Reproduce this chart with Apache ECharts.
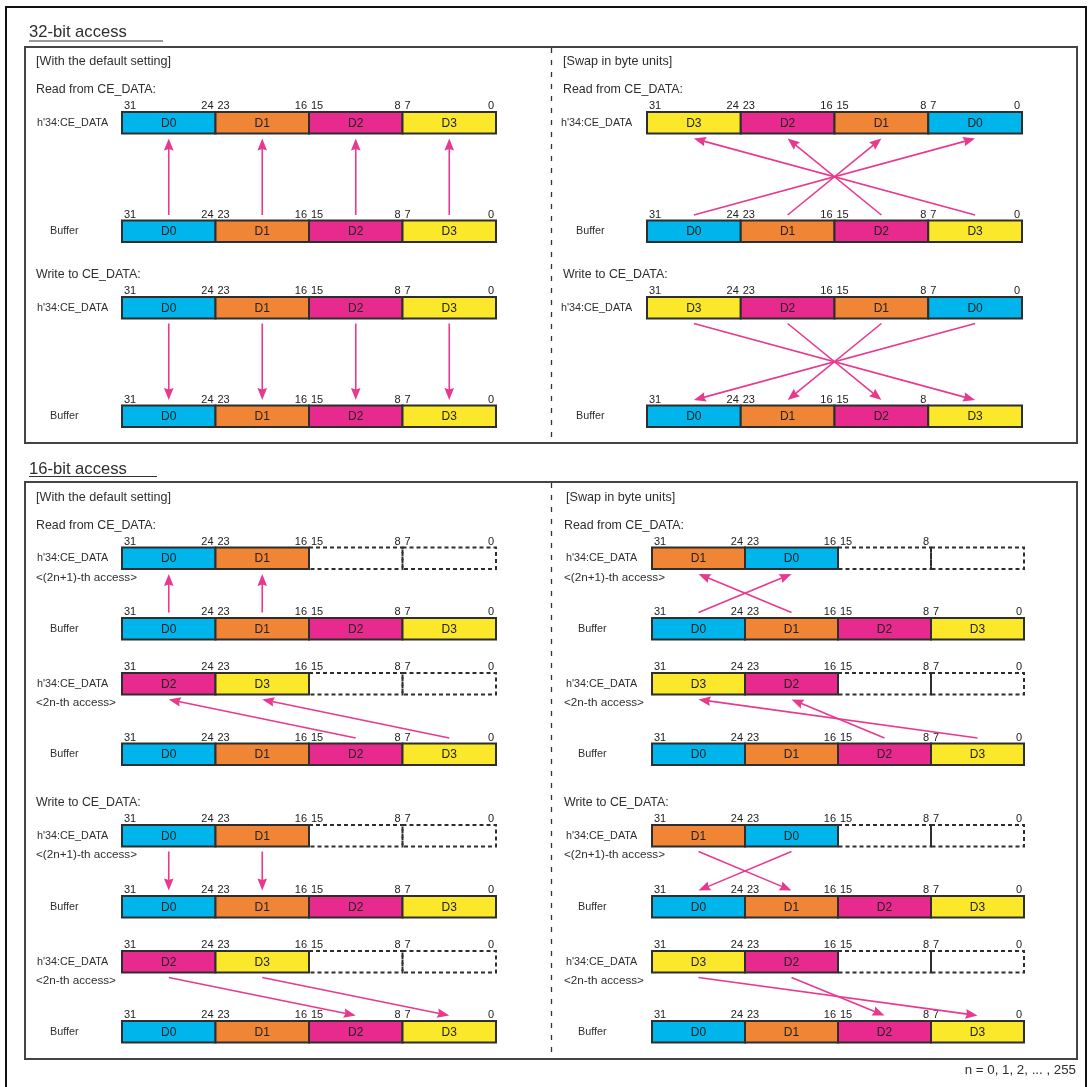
<!DOCTYPE html>
<html>
<head>
<meta charset="utf-8">
<script src="https://cdn.jsdelivr.net/npm/echarts@6/dist/echarts.min.js"></script>
<style>
  html, body { margin: 0; padding: 0; background: #fff; }
  #chart { width: 1092px; height: 1087px; }
</style>
</head>
<body>
<div id="chart"></div>
<script>
// Bit numbers over each byte lane (left, right)
const bitTicks = [['31', '24'], ['23', '16'], ['15', '8'], ['7', '0']];
const bitTicksNo70 = [['31', '24'], ['23', '16'], ['15', '8'], ['', '']];

// Byte contents of each row
const bufferBytes = ['D0', 'D1', 'D2', 'D3'];
const regDefault32 = ['D0', 'D1', 'D2', 'D3'];
const regSwap32 = ['D3', 'D2', 'D1', 'D0'];
const regOddDefault = ['D0', 'D1', '', ''];
const regEvenDefault = ['D2', 'D3', '', ''];
const regOddSwap = ['D1', 'D0', '', ''];
const regEvenSwap = ['D3', 'D2', '', ''];

// Arrows: [buffer lane, register lane]
const mapStraight = [[0, 0], [1, 1], [2, 2], [3, 3]];
const mapSwap32 = [[0, 3], [1, 2], [2, 1], [3, 0]];
const mapOddDefault = [[0, 0], [1, 1]];
const mapEvenDefault = [[2, 0], [3, 1]];
const mapOddSwap = [[0, 1], [1, 0]];
const mapEvenSwap = [[2, 1], [3, 0]];

const oddNote = '<(2n+1)-th access>';
const evenNote = '<2n-th access>';

// Styling
const laneColor = { D0: '#00b5ec', D1: '#ef8535', D2: '#e8298d', D3: '#fce82a' };
const arrowColor = '#e8398f';
const ink = '#2e2e2e';
const FONT = "'Liberation Sans', Arial, Helvetica, sans-serif";
const CELL_H = 21.5;

// Layout of every register/buffer pair
const L = { x0: 122, w: 93.5, regX: 37, bufX: 50, noteX: 36 };
const R32 = { x0: 647, w: 93.75, regX: 561, bufX: 576, noteX: 563 };
const R16 = { x0: 652, w: 93, regX: 566, bufX: 578, noteX: 564 };

const blocks = [
    { lay: L, regTop: 112, bufTop: 220.5, reg: regDefault32, map: mapStraight, dir: 'up' },
    { lay: L, regTop: 297, bufTop: 405.5, reg: regDefault32, map: mapStraight, dir: 'down' },
    { lay: R32, regTop: 112, bufTop: 220.5, reg: regSwap32, map: mapSwap32, dir: 'up' },
    { lay: R32, regTop: 297, bufTop: 405.5, reg: regSwap32, map: mapSwap32, dir: 'down', bufTicks: bitTicksNo70 },

    { lay: L, regTop: 547.5, bufTop: 618, reg: regOddDefault, map: mapOddDefault, dir: 'up', note: oddNote },
    { lay: L, regTop: 673, bufTop: 743.5, reg: regEvenDefault, map: mapEvenDefault, dir: 'up', note: evenNote },
    { lay: L, regTop: 825, bufTop: 896, reg: regOddDefault, map: mapOddDefault, dir: 'down', note: oddNote },
    { lay: L, regTop: 951, bufTop: 1021, reg: regEvenDefault, map: mapEvenDefault, dir: 'down', note: evenNote },

    { lay: R16, regTop: 547.5, bufTop: 618, reg: regOddSwap, map: mapOddSwap, dir: 'up', note: oddNote, regTicks: bitTicksNo70 },
    { lay: R16, regTop: 673, bufTop: 743.5, reg: regEvenSwap, map: mapEvenSwap, dir: 'up', note: evenNote },
    { lay: R16, regTop: 825, bufTop: 896, reg: regOddSwap, map: mapOddSwap, dir: 'down', note: oddNote },
    { lay: R16, regTop: 951, bufTop: 1021, reg: regEvenSwap, map: mapEvenSwap, dir: 'down', note: evenNote }
];

// Build cells and arrows from the blocks
const cellList = [];
const arrowData = [];
const rowTexts = [];

blocks.forEach(b => {
    const lay = b.lay;
    const addRow = (bytes, top, ticks) => {
        bytes.forEach((name, i) => {
            cellList.push({
                x0: lay.x0 + i * lay.w, x1: lay.x0 + (i + 1) * lay.w,
                y0: top, y1: top + CELL_H,
                name: name, ticks: ticks[i]
            });
        });
    };
    addRow(b.reg, b.regTop, b.regTicks || bitTicks);
    addRow(bufferBytes, b.bufTop, b.bufTicks || bitTicks);

    const regBot = b.regTop + CELL_H;
    b.map.forEach(([bi, ri]) => {
        const bx = lay.x0 + (bi + 0.5) * lay.w;
        const rx = lay.x0 + (ri + 0.5) * lay.w;
        if (b.dir === 'up') {
            arrowData.push([bx, b.bufTop - 5.5, rx, regBot + 5]);
        } else {
            arrowData.push([rx, regBot + 5, bx, b.bufTop - 5.5]);
        }
    });

    rowTexts.push(txt("h'34:CE_DATA", lay.regX, b.regTop + CELL_H / 2, 10.8));
    rowTexts.push(txt('Buffer', lay.bufX, b.bufTop + CELL_H / 2, 10.8));
    if (b.note) rowTexts.push(txt(b.note, lay.noteX, regBot + 8.5, 11.7));
});

// empty (dashed) lanes first so solid borders sit on top
cellList.sort((a, b) => (a.name ? 1 : 0) - (b.name ? 1 : 0));

function txt(text, x, y, size, align) {
    return {
        type: 'text', silent: true,
        style: {
            text: text, x: x, y: y, fill: ink,
            font: size + 'px ' + FONT,
            textAlign: align || 'left', align: align || 'left',
            textVerticalAlign: 'middle', verticalAlign: 'middle'
        }
    };
}

function renderCell(params, api) {
    const c = cellList[params.dataIndex];
    const p0 = api.coord([api.value(0), api.value(1)]);
    const p1 = api.coord([api.value(2), api.value(3)]);
    const children = [];
    const rectStyle = { fill: c.name ? laneColor[c.name] : 'none', stroke: ink, lineWidth: 2 };
    if (!c.name) rectStyle.lineDash = [4, 3];
    children.push({
        type: 'rect',
        shape: { x: p0[0], y: p0[1], width: p1[0] - p0[0], height: p1[1] - p0[1] },
        style: rectStyle
    });
    if (c.name) {
        children.push({
            type: 'text',
            style: {
                text: c.name, x: (p0[0] + p1[0]) / 2, y: (p0[1] + p1[1]) / 2 + 0.5,
                fill: '#222', font: '12px ' + FONT,
                textAlign: 'center', align: 'center', textVerticalAlign: 'middle', verticalAlign: 'middle'
            }
        });
    }
    const ty = p0[1] - 5.8;
    if (c.ticks[0]) {
        children.push({
            type: 'text',
            style: { text: c.ticks[0], x: p0[0] + 2, y: ty, fill: '#222', font: '11px ' + FONT,
                textAlign: 'left', align: 'left', textVerticalAlign: 'middle', verticalAlign: 'middle' }
        });
    }
    if (c.ticks[1]) {
        children.push({
            type: 'text',
            style: { text: c.ticks[1], x: p1[0] - 2, y: ty, fill: '#222', font: '11px ' + FONT,
                textAlign: 'right', align: 'right', textVerticalAlign: 'middle', verticalAlign: 'middle' }
        });
    }
    return { type: 'group', children: children };
}

function renderArrow(params, api) {
    const s = api.coord([api.value(0), api.value(1)]);
    const t = api.coord([api.value(2), api.value(3)]);
    const dx = t[0] - s[0], dy = t[1] - s[1];
    const len = Math.hypot(dx, dy);
    const ux = dx / len, uy = dy / len;
    const hl = 12, hw = 4.8;
    const bx = t[0] - ux * hl, by = t[1] - uy * hl;
    return {
        type: 'group',
        children: [
            { type: 'line', shape: { x1: s[0], y1: s[1], x2: bx + ux * 2, y2: by + uy * 2 },
              style: { stroke: arrowColor, lineWidth: 1.6 } },
            { type: 'polygon',
              shape: { points: [[t[0], t[1]], [bx - uy * hw, by + ux * hw], [bx + ux * 1.5, by + uy * 1.5], [bx + uy * hw, by - ux * hw]] },
              style: { fill: arrowColor } }
        ]
    };
}

// Frames, headings and other fixed text
const frames = [
    { type: 'polyline', silent: true, shape: { points: [[6, 1090], [6, 7], [1086, 7], [1086, 1090]] },
      style: { stroke: '#111', lineWidth: 2, fill: 'none' } },
    { type: 'rect', silent: true, shape: { x: 25, y: 47, width: 1052, height: 396 },
      style: { stroke: '#444', lineWidth: 2, fill: 'none' } },
    { type: 'rect', silent: true, shape: { x: 25, y: 482, width: 1052, height: 577 },
      style: { stroke: '#444', lineWidth: 2, fill: 'none' } },
    { type: 'line', silent: true, shape: { x1: 551.5, y1: 48, x2: 551.5, y2: 442 },
      style: { stroke: '#333', lineWidth: 1.3, lineDash: [5, 7] } },
    { type: 'line', silent: true, shape: { x1: 551.5, y1: 483, x2: 551.5, y2: 1058 },
      style: { stroke: '#333', lineWidth: 1.3, lineDash: [5, 7] } },
    { type: 'line', silent: true, shape: { x1: 29, y1: 41, x2: 163, y2: 41 },
      style: { stroke: '#333', lineWidth: 1 } },
    { type: 'line', silent: true, shape: { x1: 29, y1: 476.5, x2: 157, y2: 476.5 },
      style: { stroke: '#333', lineWidth: 1 } }
];

const headings = [
    txt('32-bit access', 29, 32.5, 16.6),
    txt('16-bit access', 29, 469, 16.6),
    txt('[With the default setting]', 36, 62, 12.6),
    txt('[Swap in byte units]', 563, 62, 12.6),
    txt('[With the default setting]', 36, 498, 12.6),
    txt('[Swap in byte units]', 566, 498, 12.6),
    txt('Read from CE_DATA:', 36, 89.5, 12.4),
    txt('Read from CE_DATA:', 563, 89.5, 12.4),
    txt('Write to CE_DATA:', 36, 275, 12.4),
    txt('Write to CE_DATA:', 563, 275, 12.4),
    txt('Read from CE_DATA:', 36, 526, 12.4),
    txt('Read from CE_DATA:', 564, 526, 12.4),
    txt('Write to CE_DATA:', 36, 802.5, 12.4),
    txt('Write to CE_DATA:', 564, 802.5, 12.4),
    txt('n = 0, 1, 2, ... , 255', 1076, 1070, 13.3, 'right')
];

const chart = echarts.init(document.getElementById('chart'));

const option = {
    animation: false,
    backgroundColor: '#fff',
    grid: { left: 0, right: 0, top: 0, bottom: 0 },
    xAxis: { type: 'value', min: 0, max: 1092, show: false },
    yAxis: { type: 'value', min: 0, max: 1087, inverse: true, show: false },
    graphic: { elements: frames.concat(headings, rowTexts) },
    series: [
        {
            name: 'Lanes',
            type: 'custom',
            silent: true,
            renderItem: renderCell,
            data: cellList.map(c => [c.x0, c.y0, c.x1, c.y1])
        },
        {
            name: 'Transfers',
            type: 'custom',
            silent: true,
            renderItem: renderArrow,
            data: arrowData
        }
    ]
};

chart.setOption(option);
</script>
</body>
</html>
